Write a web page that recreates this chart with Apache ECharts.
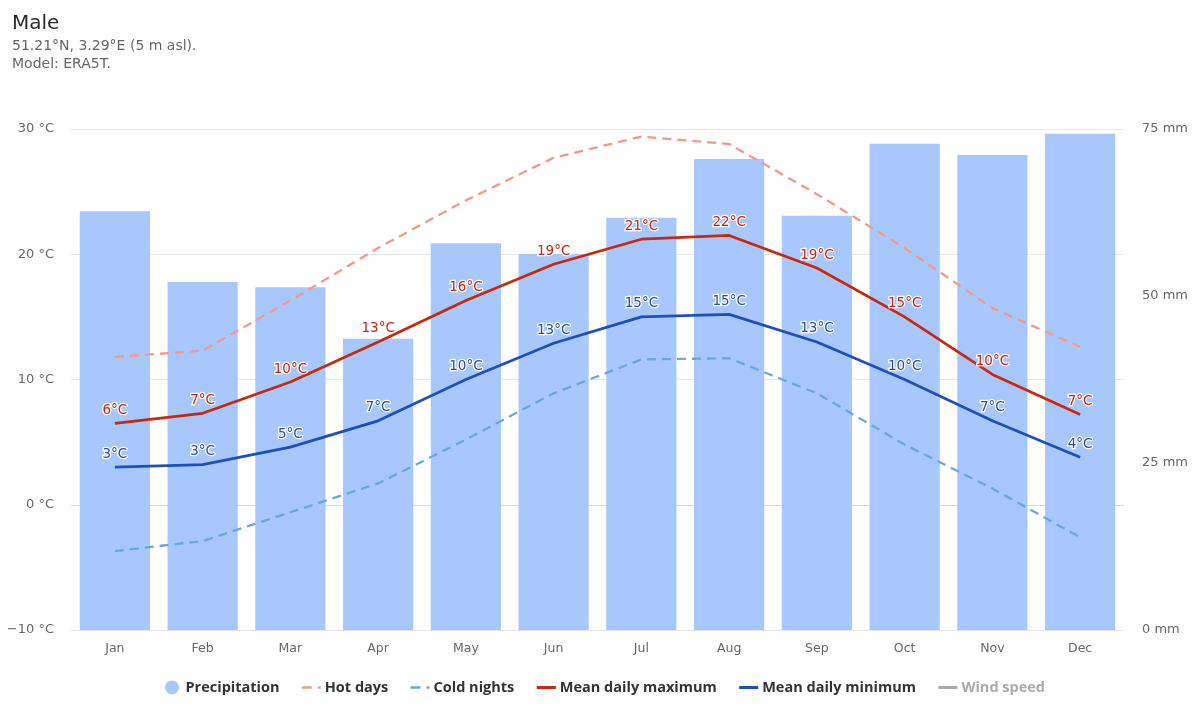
<!DOCTYPE html>
<html><head><meta charset="utf-8">
<style>html,body{margin:0;padding:0;background:#fff}#c{width:1200px;height:720px}</style>
<script src="https://cdn.jsdelivr.net/npm/echarts@6/dist/echarts.min.js"></script>
</head><body><div id="c"></div>
<script>
const months = ['Jan','Feb','Mar','Apr','May','Jun','Jul','Aug','Sep','Oct','Nov','Dec'];
const precipitation = [62.7,52.1,51.3,43.6,57.9,56.3,61.7,70.5,62.0,72.8,71.1,74.3];
const hotDays = [11.8,12.3,16.3,20.5,24.3,27.7,29.4,28.8,24.8,20.5,15.7,12.6];
const coldNights = [-3.7,-2.9,-0.6,1.7,5.2,8.9,11.6,11.7,8.9,4.8,1.3,-2.6];
const meanMax = [6.5,7.3,9.8,13.0,16.3,19.2,21.2,21.5,18.9,15.0,10.4,7.2];
const meanMin = [3.0,3.2,4.6,6.7,10.0,12.9,15.0,15.2,13.0,10.0,6.7,3.8];
const windSpeed = [];
const maxLabels = [6,7,10,13,16,19,21,22,19,15,10,7];
const minLabels = [3,3,5,7,10,13,15,15,13,10,7,4];
const FONT = '"DejaVu Sans", sans-serif';
const HOT = '#f4988a', COLD = '#6ba6dc', MAX = '#c9270e', MIN = '#1f4fb8', WIND = '#aaa';
const lab = (color, texts) => ({
  show:true, position:'top', distance:6, fontFamily:FONT, fontSize:13.5, color,
  textBorderColor:'#fff', textBorderWidth:2.5,
  formatter:p => texts[p.dataIndex] + '°C'
});
const legendLine = (name, color, type, width) => ({
  name, itemStyle:{opacity:0}, lineStyle:{color, type, width}
});
const chart = echarts.init(document.getElementById('c'), null, {renderer:'canvas'});
chart.setOption({
  animation:false,
  backgroundColor:'#fff',
  title:{left:12,top:14,padding:0,text:'Male',subtext:'51.21°N, 3.29°E (5 m asl).\nModel: ERA5T.',itemGap:3,
    textStyle:{fontFamily:FONT,fontSize:20,fontWeight:'normal',color:'#2b2b2b'},
    subtextStyle:{fontFamily:FONT,fontSize:14,color:'#666',lineHeight:18}},
  legend:{bottom:20,left:160,itemWidth:19,itemHeight:14,itemGap:21,
    textStyle:{fontFamily:'"Open Sans", sans-serif',fontSize:14.5,fontWeight:'bold',color:'#333',padding:[0,0,0,-1]},
    inactiveColor:'#aaa',inactiveBorderColor:'#aaa',
    lineStyle:{inactiveColor:'#aaa',inactiveWidth:3},
    selected:{'Wind speed':false},
    data:[{name:'Precipitation',icon:'circle'},
      legendLine('Hot days',HOT,[10,6,3,10],2.5),
      legendLine('Cold nights',COLD,[10,6,3,10],2.5),
      legendLine('Mean daily maximum',MAX,'solid',3),
      legendLine('Mean daily minimum',MIN,'solid',3),
      legendLine('Wind speed',WIND,'solid',3)]},
  grid:{left:71,right:76,top:129,bottom:90},
  xAxis:{type:'category',data:months,
    axisTick:{show:false},axisLine:{lineStyle:{color:'#d8d8d8',width:1}},
    axisLabel:{fontFamily:FONT,fontSize:12.5,color:'#666',margin:12},splitLine:{show:false}},
  yAxis:[
    {type:'value',min:-10,max:30,interval:10,
     axisLabel:{fontFamily:FONT,fontSize:13,color:'#666',margin:17,padding:[3,0,0,0],
       formatter:v => (v<0?'−'+(-v):v)+' °C'},
     axisLine:{show:false},axisTick:{show:false},splitLine:{lineStyle:{color:'#e6e6e6',width:1}}},
    {type:'value',min:0,max:75,interval:25,position:'right',
     axisLabel:{fontFamily:FONT,fontSize:13,color:'#666',margin:18,padding:[3,0,0,0],formatter:v => v+' mm'},
     axisLine:{show:false},axisTick:{show:false},splitLine:{show:false}}
  ],
  series:[
    {name:'Precipitation',type:'bar',yAxisIndex:1,data:precipitation,barWidth:'80%',itemStyle:{color:'#a8c8fd'},z:1},
    {name:'Hot days',type:'line',data:hotDays,symbol:'none',lineStyle:{color:HOT,width:2.3,type:[9,6]},itemStyle:{color:HOT},z:2},
    {name:'Cold nights',type:'line',data:coldNights,symbol:'none',lineStyle:{color:COLD,width:2.3,type:[9,6]},itemStyle:{color:COLD},z:2},
    {name:'Mean daily maximum',type:'line',data:meanMax,symbol:'circle',symbolSize:0.01,showSymbol:true,lineStyle:{color:MAX,width:2.7},itemStyle:{color:MAX},label:lab(MAX,maxLabels),z:3},
    {name:'Mean daily minimum',type:'line',data:meanMin,symbol:'circle',symbolSize:0.01,showSymbol:true,lineStyle:{color:MIN,width:2.7},itemStyle:{color:MIN},label:lab('#2a4f9e',minLabels),z:3},
    {name:'Wind speed',type:'line',data:windSpeed,symbol:'none',lineStyle:{color:WIND,width:2},itemStyle:{color:WIND}}
  ]
});
</script></body></html>
